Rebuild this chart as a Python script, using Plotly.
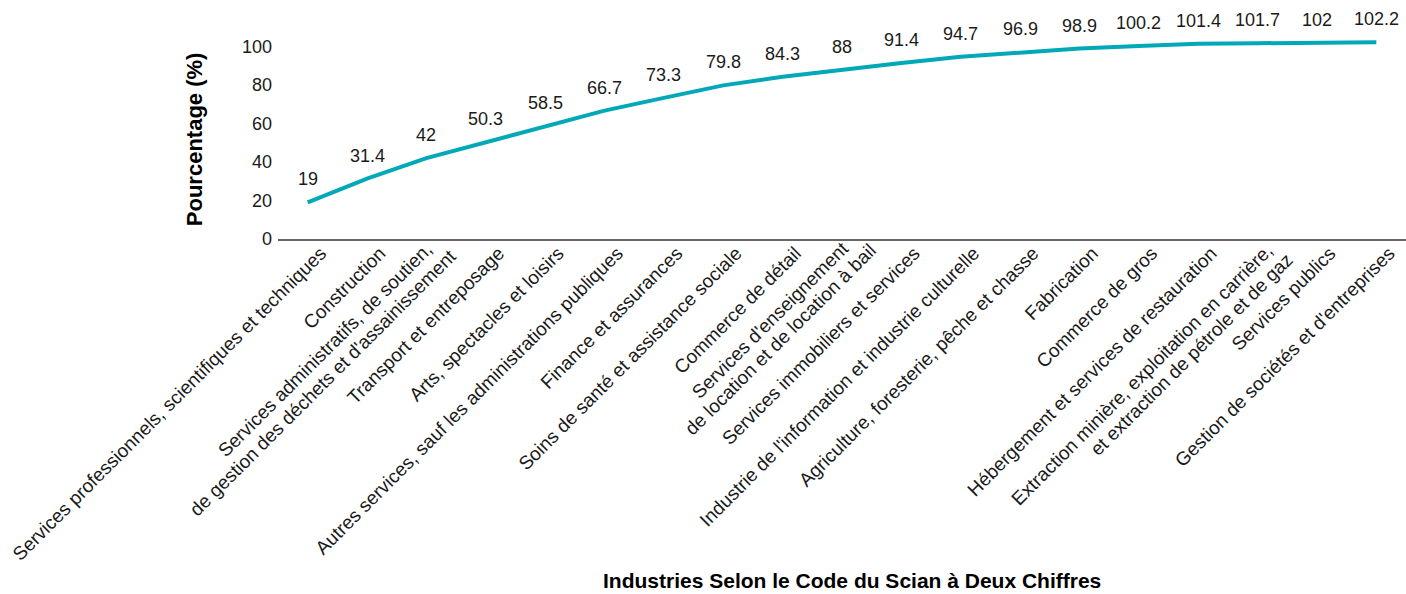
import plotly.graph_objects as go

categories = [
    "Services professionnels, scientifiques et techniques",
    "Construction",
    "Services administratifs, de soutien,<br>de gestion des déchets et d'assainissement",
    "Transport et entreposage",
    "Arts, spectacles et loisirs",
    "Autres services, sauf les administrations publiques",
    "Finance et assurances",
    "Soins de santé et assistance sociale",
    "Commerce de détail",
    "Services d'enseignement<br>de location et de location à bail",
    "Services immobiliers et services",
    "Industrie de l'information et industrie culturelle",
    "Agriculture, foresterie, pêche et chasse",
    "Fabrication",
    "Commerce de gros",
    "Hébergement et services de restauration",
    "Extraction minière, exploitation en carrière,<br>et extraction de pétrole et de gaz",
    "Services publics",
    "Gestion de sociétés et d'entreprises",
]
values = [19, 31.4, 42, 50.3, 58.5, 66.7, 73.3, 79.8, 84.3, 88, 91.4,
          94.7, 96.9, 98.9, 100.2, 101.4, 101.7, 102, 102.2]
y_ticks = [0, 20, 40, 60, 80, 100]

FONT = "Liberation Sans, Arial, Helvetica, sans-serif"
LINE_COLOR = "#00A8B8"
TXT = "#1a1a1a"

# pixel offsets (style) for each line of the wrapped category labels
WRAP_SHIFTS = {
    2: [(13, 4), (37, -3)],
    9: [(13, 4), (41, 2)],
    16: [(22, 2), (42, -7)],
}

fig = go.Figure()
fig.add_trace(go.Scatter(
    x=categories, y=values, mode="lines",
    line=dict(color=LINE_COLOR, width=4),
    hoverinfo="x+y", showlegend=False,
))

for c, v in zip(categories, values):
    fig.add_annotation(x=c, y=v, text=f"{v:g}", showarrow=False,
                       yshift=23, font=dict(family=FONT, size=18, color=TXT))

# wrapped category labels: one rotated text per line
for i, c in enumerate(categories):
    if "<br>" in c:
        for line, (dx, dy) in zip(c.split("<br>"), WRAP_SHIFTS[i]):
            fig.add_annotation(x=c, y=0, xref="x", yref="y", text=line,
                               textangle=-45, showarrow=False,
                               xanchor="right", yanchor="top",
                               xshift=dx, yshift=dy,
                               font=dict(family=FONT, size=19, color=TXT))

tick_text = ["" if "<br>" in c else c for c in categories]

fig.add_annotation(text="<b>Pourcentage (%)</b>", xref="paper", yref="paper",
                   x=-0.074, y=0.43, xanchor="center", yanchor="middle",
                   textangle=-90, showarrow=False,
                   font=dict(family=FONT, size=22, color="#000"))
fig.add_annotation(text="<b>Industries Selon le Code du Scian à Deux Chiffres</b>",
                   xref="paper", yref="paper", x=0.509, y=-1.48,
                   xanchor="center", yanchor="middle", showarrow=False,
                   font=dict(family=FONT, size=21, color="#000"))

fig.update_layout(
    width=1406, height=594,
    margin=dict(l=278, r=0, t=8, b=355),
    plot_bgcolor="white", paper_bgcolor="white",
    font=dict(family=FONT, size=18, color=TXT),
    xaxis=dict(
        type="category", tickangle=-45, showline=True, linecolor="#666",
        linewidth=1.5, showgrid=False, ticks="", zeroline=False,
        range=[-0.5, len(categories) - 0.5],
        tickmode="array", tickvals=categories, ticktext=tick_text,
        tickfont=dict(family=FONT, size=19, color=TXT),
        ticklabelshift=13, ticklabelstandoff=-6,
        automargin=False,
    ),
    yaxis=dict(
        range=[0, 120], tickvals=y_ticks, showgrid=False, zeroline=False,
        showline=False, ticks="", automargin=False, ticklabelstandoff=5,
        tickfont=dict(family=FONT, size=18, color=TXT),
    ),
)

fig.write_html("out.html")
